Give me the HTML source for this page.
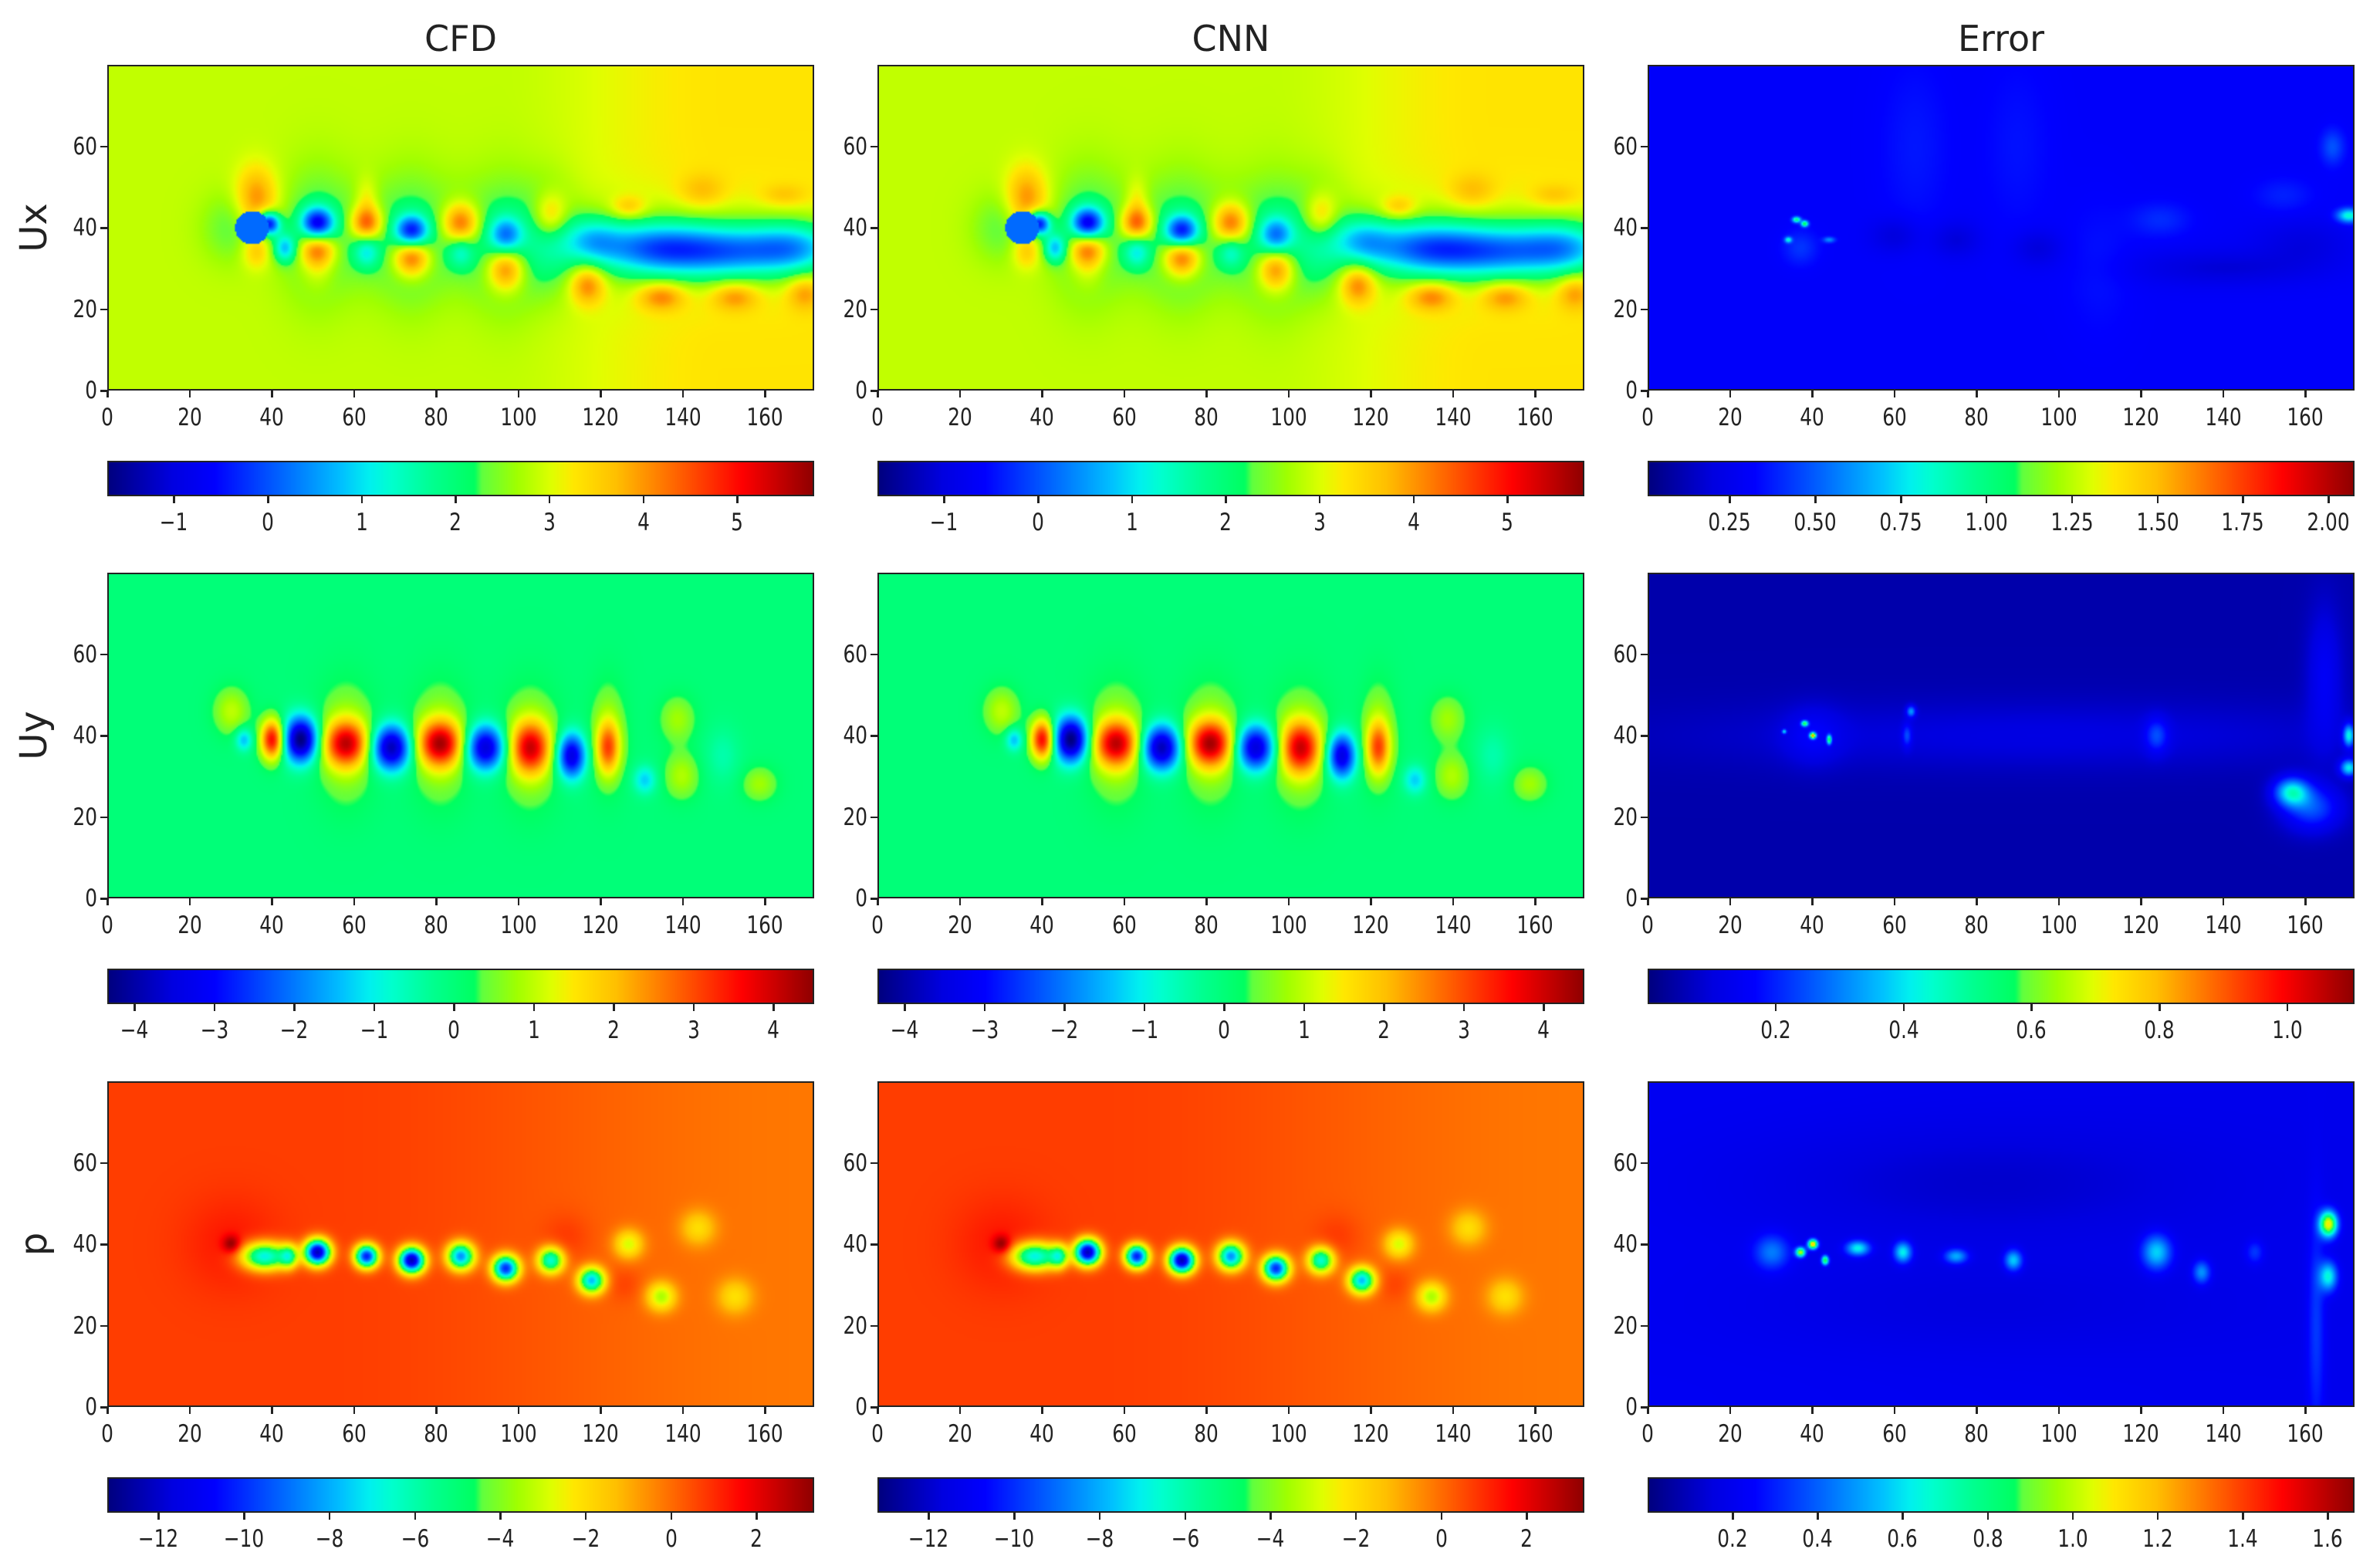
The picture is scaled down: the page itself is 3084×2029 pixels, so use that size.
<!DOCTYPE html>
<html><head><meta charset="utf-8">
<style>
body{margin:0;background:#fff;width:3084px;height:2029px;position:relative;overflow:hidden;font-family:"DejaVu Sans","Liberation Sans",sans-serif;color:#222}
canvas.f{position:absolute;border:2.5px solid #222;box-sizing:border-box}
.tl{position:absolute;font-size:31px;white-space:nowrap;transform:translate(-50%,-50%) scaleX(0.8)}
.yl{position:absolute;font-size:31px;white-space:nowrap;transform:translate(-100%,-50%) scaleX(0.8);transform-origin:100% 50%}
.tk{position:absolute;background:#222}
.title{position:absolute;font-size:46px;transform:translate(-50%,-50%)}
.rowlab{position:absolute;font-size:48px;transform:translate(-50%,-50%) rotate(-90deg)}
</style></head><body>
<div id="root"></div>
<script>
// ---- layout (not data) ----
const colLeft=[139,1137,2135], panelW=916;
const rowTop=[84,742,1401], panelH=422;
const cbarTop=[597,1255,1914], cbarH=46;
// ---- data ----
const xMax=172, yMax=80;
const xTicks=[0,20,40,60,80,100,120,140,160];
const yTicks=[0,20,40,60];
const colTitles=["CFD","CNN","Error"];
const rowLabels=["Ux","Uy","p"];
const uxRange=[-1.71,5.82], uyRange=[-4.34,4.51], pRange=[-13.2,3.35];
const eUxRange=[0.01,2.076], eUyRange=[0.0,1.105], ePRange=[0.0,1.663];
const uxTicks=[-1,0,1,2,3,4,5];
const uyTicks=[-4,-3,-2,-1,0,1,2,3,4];
const pTicks=[-12,-10,-8,-6,-4,-2,0,2];
const eUxTicks=["0.25","0.50","0.75","1.00","1.25","1.50","1.75","2.00"];
const eUyTicks=["0.2","0.4","0.6","0.8","1.0"];
const ePTicks=["0.2","0.4","0.6","0.8","1.0","1.2","1.4","1.6"];
// colormap stops sampled from the reference colorbar
const cmapPos=[0,0.09,0.15,0.24,0.33,0.37,0.40,0.46,0.52,0.53,0.58,0.63,0.66,0.72,0.78,0.84,0.90,1.0];
const cmapCol=[[0,0,128],[0,0,224],[0,0,255],[0,96,255],[0,192,255],[0,240,240],[0,255,208],[0,255,144],[0,255,96],[96,255,64],[160,255,0],[224,255,0],[255,232,0],[255,192,0],[255,128,0],[255,64,0],[255,0,0],[144,0,0]];
// base fields: [left value, right value, ramp start x, ramp end x]
const uxBase=[2.85,3.3,95,150];
const uyBase=[0.0,0.0,0,172];
const pBase=[0.75,-0.15,50,172];
const eUxBase=[0.3,0.3,0,172];
const eUyBase=[0.045,0.045,0,172];
const ePBase=[0.21,0.19,0,172];
// blobs: [x, y, amplitude, sx, sy]
const cfdUx=[[30,40,-0.6,5,6],[36,47,1.3,3.5,5.5],[36,34,0.8,2.5,3],[39,41,-3.5,2,2],[43,35,-1.8,2,2.5],
[51,38,-0.9,6,11],[74,37,-0.9,6,11],[97,36,-0.9,6,11],[63,38,-0.4,5,9],[86,38,-0.4,5,9],[108,38,-0.8,4.5,9],
[51,41,-3.0,2.8,2.8],[51,35,2.0,3.2,3.2],[51,30,0.6,3,4],[63,41,2.0,2.8,3],[63,47,0.6,2,4],[63,34,-1.2,2.2,2.8],
[74,39,-2.8,2.8,2.8],[74,33,2.3,3.2,3.6],[86,41,2.0,3.2,3.6],[86,34,-1.0,2.2,2.8],[97,38,-1.8,2.8,3.2],[97,30,2.0,3.2,4],
[108,43,1.3,3,4],[117,26,1.4,3,3.5],[118,37,-1.3,5,4],[132,35,-1.9,10,4.5],[150,34,-2.1,12,4.5],[168,35,-1.8,8,4.5],[145,35,-0.8,25,8],
[127,45,0.8,3,2],[135,23,1.2,4,2.5],[145,49,0.6,4,3],[153,23,1.0,4,2.5],[165,48,0.5,4,2],[170,24,0.9,3,3]];
const cnnUx=cfdUx.map(b=>b.slice());
const cfdUy=[[40,39,3.8,2,3.5],[33,39,-1.5,1.5,2],[30,46,1,3,4],[47,39,-4.5,3,4],[58,38,3.3,4,4],[58,38,0.9,5,10],
[69,37,-4.1,3.5,4],[81,38,3.5,4,4],[81,38,0.9,5,10],[92,37,-3.8,3.5,4],[103,37,3.2,3.5,4.5],[103,37,0.9,5,10],
[113,35,-3.6,2.5,4],[122,37,2.4,2,4.5],[122,40,0.8,3,9],[131,29,-1.3,2,2.5],[139,44,0.8,3,4],[140,30,0.9,3,4],
[150,35,-0.5,3,5],[159,28,0.8,3,3]];
const cnnUy=cfdUy.map(b=>b.slice());
const cfdP=[[30,40,2.3,1.5,1.5],[30,40,0.6,8,8],[38,37,-8,4,2.4],[44,37,-5,1.5,2],[51,38,-13,2.2,2.2],[63,37,-11,2,2],
[74,36,-13,2.2,2.2],[86,37,-9,2.3,2.3],[97,34,-10.5,2.2,2.2],[108,36,-7,2.2,2.2],[118,31,-8,2.2,2.2],
[127,40,-3,2.5,2.5],[135,27,-3.5,2.5,2.5],[144,44,-2,3,3],[153,27,-2,3,3],[112,42,0.5,4,4],[126,30,0.5,3,3]];
const cnnP=cfdP.map(b=>b.slice());
const errUx=[[36,42,0.7,0.7,0.5],[38,41,0.8,0.6,0.5],[34,37,0.5,0.6,0.5],[44,37,0.3,1,0.5],[37,35,0.12,3,3],
[65,60,0.06,6,15],[90,60,0.05,6,15],[110,30,0.05,6,12],[60,38,-0.12,4,3],[75,37,-0.12,4,3],[95,35,-0.12,4,3],
[125,42,0.1,5,3],[140,30,-0.12,15,3],[160,36,-0.1,8,4],[171,43,0.55,2,1.2],[167,60,0.18,2,3],[155,48,0.08,5,3]];
const errUy=[[40,40,0.7,0.5,0.5],[38,43,0.45,0.6,0.5],[44,39,0.45,0.4,0.8],[33,41,0.3,0.4,0.4],[40,40,0.08,5,5],
[95,40,0.06,60,6],[64,46,0.25,0.8,1],[63,40,0.15,0.8,2],[124,40,0.15,2,3],[157,26,0.35,3,2.5],[162,22,0.2,5,4],
[171,32,0.35,1.5,1.5],[171,40,0.35,1,2],[165,55,0.1,3,12]];
const errP=[[30,38,0.25,3,3],[40,40,1.0,0.8,0.8],[37,38,0.8,0.8,0.8],[43,36,0.7,0.6,0.8],[51,39,0.45,2,1.3],
[62,38,0.45,1.5,1.8],[75,37,0.35,2,1.3],[89,36,0.4,1.5,1.8],[124,38,0.4,2.5,3],[135,33,0.3,1.5,2],
[148,38,0.15,1.5,2],[166,45,0.9,1.5,2.2],[166,32,0.45,1.5,2.5],[163,20,0.15,1.5,20],[80,55,-0.08,40,10],[80,25,-0.05,40,8]];
// ---- helpers ----
function jet(t){t=Math.max(0,Math.min(1,t));let k=0;while(k<cmapPos.length-2&&t>cmapPos[k+1])k++;
  const f=(t-cmapPos[k])/(cmapPos[k+1]-cmapPos[k]);const a=cmapCol[k],b=cmapCol[k+1];
  return [0,1,2].map(i=>Math.round(a[i]+(b[i]-a[i])*f));}
function xs(v,w){return v/xMax*w;}
function ys(v,h){return h-v/yMax*h;}
const root=document.getElementById('root');
function field(base,blobs,x,y,cyl){
  let r=(x-base[2])/(base[3]-base[2]);r=Math.max(0,Math.min(1,r));r=r*r*(3-2*r);
  let v=base[0]+(base[1]-base[0])*r;
  for(const b of blobs){const dx=(x-b[0])/b[3],dy=(y-b[1])/b[4];v+=b[2]*Math.exp(-0.5*(dx*dx+dy*dy));}
  if(cyl!==null&&((x-35)*(x-35)+(y-40)*(y-40))<17)v=cyl;
  return v;
}
function drawPanel(left,top,base,blobs,range,cyl,name){
  const c=document.createElement('canvas');
  
  
  const W=458,H=211;c.width=W;c.height=H;c.className='f';
  c.style.left=left+'px';c.style.top=top+'px';c.style.width=panelW+'px';c.style.height=panelH+'px';
  const ctx=c.getContext('2d');const img=ctx.createImageData(W,H);
  for(let j=0;j<H;j++)for(let i=0;i<W;i++){
    const x=(i+0.5)/W*xMax,y=(1-(j+0.5)/H)*yMax;
    const v=field(base,blobs,x,y,cyl);const col=jet((v-range[0])/(range[1]-range[0]));
    const k=(j*W+i)*4;img.data[k]=col[0];img.data[k+1]=col[1];img.data[k+2]=col[2];img.data[k+3]=255;}
  ctx.putImageData(img,0,0);root.appendChild(c);
  xTicks.forEach(t=>{const px=left+xs(t,panelW);
    const tk=document.createElement('div');tk.className='tk';
    
    
    tk.style.cssText=`left:${px-1}px;top:${top+panelH}px;width:2.5px;height:9px`;root.appendChild(tk);
    const l=document.createElement('div');l.className='tl';
    
    
    l.textContent=t;l.style.left=px+'px';l.style.top=(top+panelH+35)+'px';root.appendChild(l);});
  yTicks.forEach(t=>{const py=top+ys(t,panelH);
    const tk=document.createElement('div');tk.className='tk';
    
    
    tk.style.cssText=`left:${left-9}px;top:${py-1}px;width:9px;height:2.5px`;root.appendChild(tk);
    const l=document.createElement('div');l.className='yl';
    
    
    l.textContent=t;l.style.left=(left-13)+'px';l.style.top=py+'px';
    root.appendChild(l);});
}
function drawCbar(left,top,range,ticks,name){
  const c=document.createElement('canvas');
  
  
  c.width=400;c.height=1;c.className='f';
  c.style.left=left+'px';c.style.top=top+'px';c.style.width=panelW+'px';c.style.height=cbarH+'px';
  const ctx=c.getContext('2d');
  for(let i=0;i<400;i++){const col=jet((i+0.5)/400);ctx.fillStyle=`rgb(${col})`;ctx.fillRect(i,0,1,1);}
  root.appendChild(c);
  ticks.forEach(t=>{const v=parseFloat(t);const px=left+(v-range[0])/(range[1]-range[0])*panelW;
    const tk=document.createElement('div');tk.className='tk';
    
    
    tk.style.cssText=`left:${px-1}px;top:${top+cbarH}px;width:2.5px;height:9px`;root.appendChild(tk);
    const l=document.createElement('div');l.className='tl';
    
    
    l.textContent=(typeof t==='number'&&t<0)?'\u2212'+Math.abs(t):t;
    l.style.left=px+'px';l.style.top=(top+cbarH+34)+'px';root.appendChild(l);});
}
const rows=[
 {base:[uxBase,uxBase,eUxBase],blobs:[cfdUx,cnnUx,errUx],range:[uxRange,uxRange,eUxRange],ticks:[uxTicks,uxTicks,eUxTicks],cyl:[0.17,0.17,null]},
 {base:[uyBase,uyBase,eUyBase],blobs:[cfdUy,cnnUy,errUy],range:[uyRange,uyRange,eUyRange],ticks:[uyTicks,uyTicks,eUyTicks],cyl:[null,null,null]},
 {base:[pBase,pBase,ePBase],blobs:[cfdP,cnnP,errP],range:[pRange,pRange,ePRange],ticks:[pTicks,pTicks,ePTicks],cyl:[null,null,null]}];
rows.forEach((r,ri)=>{for(let ci=0;ci<3;ci++){
  drawPanel(colLeft[ci],rowTop[ri],r.base[ci],r.blobs[ci],r.range[ci],r.cyl[ci],(colTitles[ci]+'-'+rowLabels[ri]+'-heatmap').toLowerCase());
  drawCbar(colLeft[ci],cbarTop[ri],r.range[ci],r.ticks[ci],(colTitles[ci]+'-'+rowLabels[ri]+'-colorbar').toLowerCase());}});
colTitles.forEach((t,i)=>{const d=document.createElement('div');d.className='title';
  
  
  d.textContent=t;d.style.left=(colLeft[i]+panelW/2)+'px';d.style.top='50px';root.appendChild(d);});
rowLabels.forEach((t,i)=>{const d=document.createElement('div');d.className='rowlab';
  
  
  d.textContent=t;d.style.left='44px';d.style.top=(rowTop[i]+panelH/2)+'px';root.appendChild(d);});
</script>
</body></html>
